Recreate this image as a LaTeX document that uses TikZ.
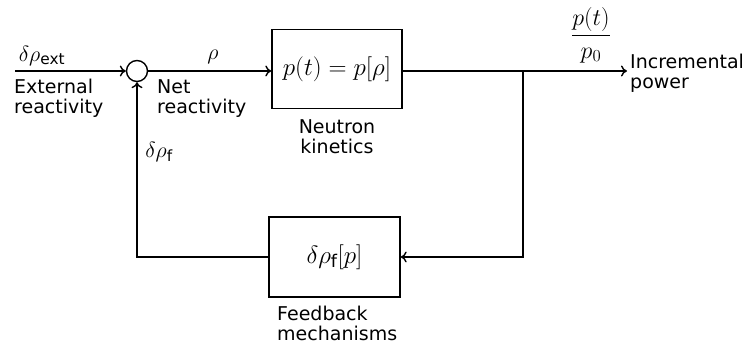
\RequirePackage{fix-cm}
\documentclass[tikz,border=0pt]{standalone}
\usepackage{amsmath}
\usepackage{fontspec}
\setmainfont{DejaVu Sans}
\usepackage{tikz}
\usetikzlibrary{arrows.meta, positioning}
\tikzstyle{block} = [rectangle, draw=black, line width=1.4pt, minimum width=130pt, minimum height=79pt, inner sep=0pt, font=\fontsize{25}{25}\selectfont]
\tikzstyle{sumpt} = [circle, draw=black, line width=1.4pt, minimum size=21pt, inner sep=0pt]
\tikzstyle{lbl} = [align=left, inner sep=0pt, font=\fontsize{19}{20}\selectfont]
\tikzstyle{sym} = [inner sep=0pt, font=\fontsize{22}{22}\selectfont]
\tikzstyle{line} = [draw, line width=1.4pt, -{To[length=6pt,width=11pt]}]

\begin{document}
\begin{tikzpicture}[x=1pt, y=-1pt]
    \useasboundingbox (0,0) rectangle (750,347);
    % Nodes
    \node [sumpt] (sum) at (137,71) {};
    \node [block] (kin) at (337,69) {$p(t) = p[\rho]$};
    \node [block, minimum width=131pt, minimum height=80pt] (fb) at (334.5,257) {$\delta\rho_{\text{f}}[p]$};
    \coordinate (in) at (15,71);
    \coordinate (branch) at (523,71);
    \coordinate (out) at (627,71);

    % Labels
    \node [sym] (dext) at (42,56) {$\delta\rho_{\text{ext}}$};
    \node [lbl, anchor=north west] (extlbl) at (14,79) {External\\reactivity};
    \node [sym] (rho) at (213,57) {$\rho$};
    \node [lbl, anchor=north west] (netlbl) at (157,79) {Net\\reactivity};
    \node [lbl, align=center, below=10pt of kin] (kinlbl) {Neutron\\kinetics};
    \node [sym] (dfb) at (159,152) {$\delta\rho_{\text{f}}$};
    \node [lbl, anchor=north west] (fblbl) at (277,306) {Feedback\\mechanisms};
    \node [sym, font=\fontsize{24}{24}\selectfont] (frac) at (591,35) {$\dfrac{p(t)}{p_0}$};
    \node [lbl, anchor=north west] (outlbl) at (630,54) {Incremental\\power};

    % Edges
    \path [line] (in) -- (sum.west);
    \path [line] (sum.east) -- (sum.east -| kin.west);
    \path [line] (sum.east -| kin.east) -- (out);
    \path [line] (branch) |- (fb.east);
    \path [line] (fb.west) -| (sum.south);
\end{tikzpicture}
\end{document}
